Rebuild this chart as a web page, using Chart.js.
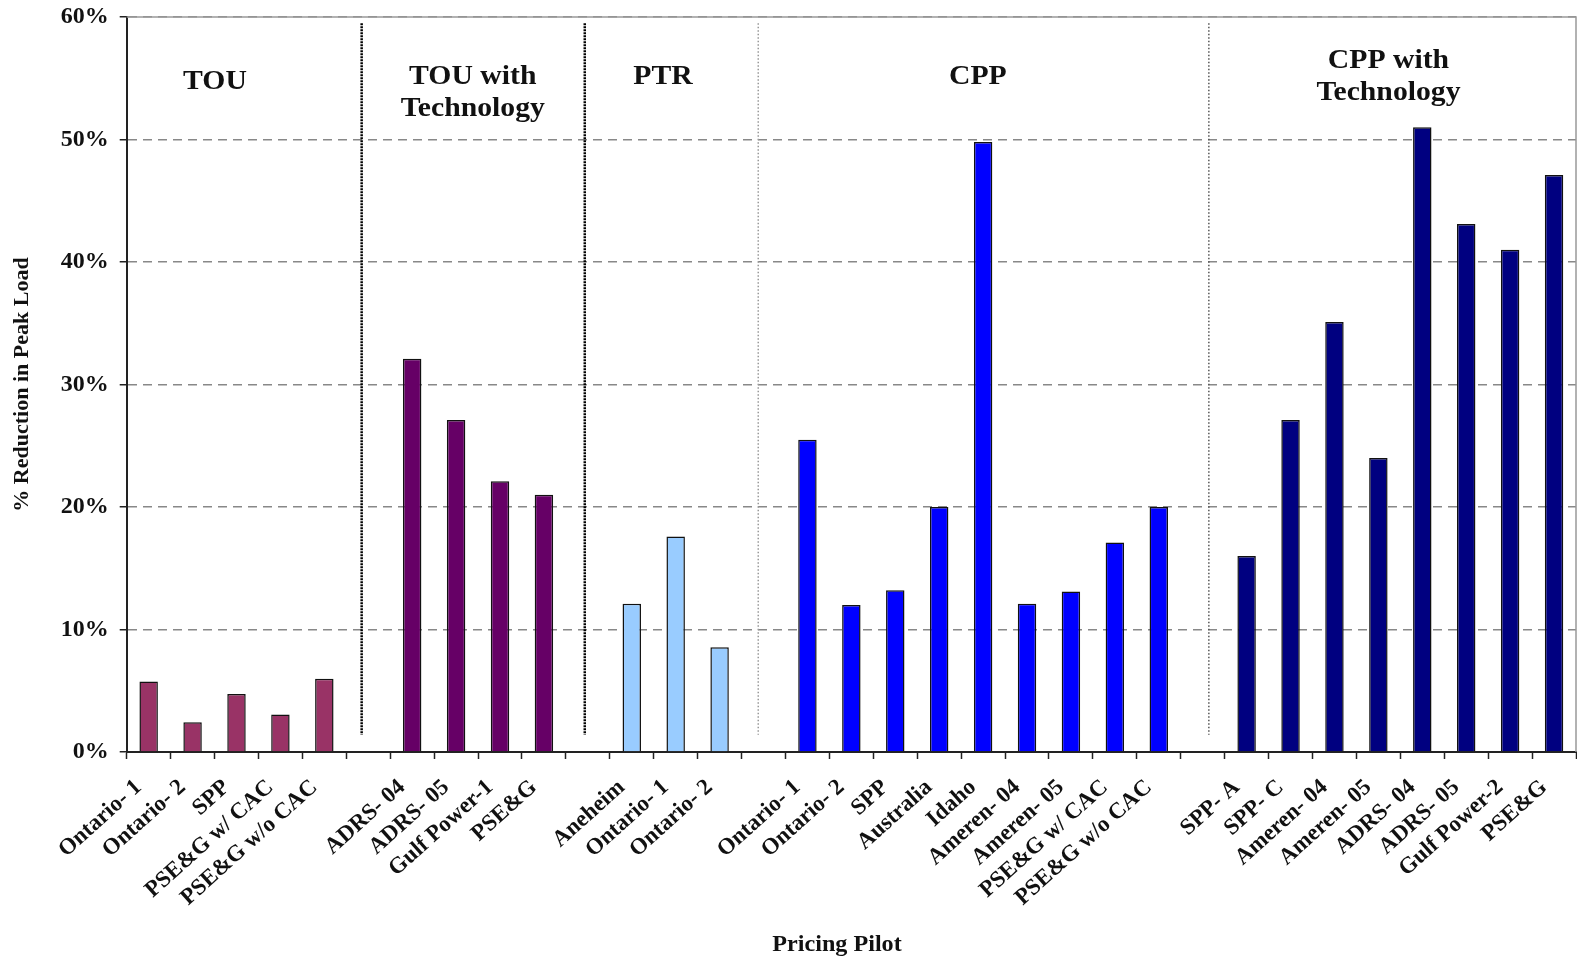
<!DOCTYPE html>
<html>
<head>
<meta charset="utf-8">
<script src="https://cdn.jsdelivr.net/npm/chart.js@4.4.1/dist/chart.umd.min.js"></script>
<style>
  html, body { margin: 0; padding: 0; background: #fff; }
  #wrap { width: 1577px; height: 957px; }
</style>
</head>
<body>
<div id="wrap"><canvas id="graficoPilotos"></canvas></div>
<script>
// Dados (% de redução no pico de carga)
const touLabels = ['Ontario- 1', 'Ontario- 2', 'SPP', 'PSE&G w/ CAC', 'PSE&G w/o CAC'];
const touValues = [5.76, 2.43, 4.74, 3.06, 5.97];

const touTechLabels = ['ADRS- 04', 'ADRS- 05', 'Gulf Power-1', 'PSE&G'];
const touTechValues = [32.1, 27.1, 22.1, 21.0];

const ptrLabels = ['Aneheim', 'Ontario- 1', 'Ontario- 2'];
const ptrValues = [12.1, 17.6, 8.55];

const cppLabels = ['Ontario- 1', 'Ontario- 2', 'SPP', 'Australia', 'Idaho', 'Ameren- 04', 'Ameren- 05', 'PSE&G w/ CAC', 'PSE&G w/o CAC'];
const cppValues = [25.5, 12.0, 13.2, 20.0, 49.8, 12.1, 13.1, 17.1, 20.0];

const cppTechLabels = ['SPP- A', 'SPP- C', 'Ameren- 04', 'Ameren- 05', 'ADRS- 04', 'ADRS- 05', 'Gulf Power-2', 'PSE&G'];
const cppTechValues = [16.0, 27.1, 35.1, 24.0, 51.0, 43.1, 41.0, 47.1];

const groupNames = [['TOU'], ['TOU with', 'Technology'], ['PTR'], ['CPP'], ['CPP with', 'Technology']];
const groupColors = ['#993366', '#660066', '#99CCFF', '#0000FF', '#000080'];
const yTicks = [0, 10, 20, 30, 40, 50, 60];
const xTitle = 'Pricing Pilot';

const FONTE = "'Liberation Serif', 'Times New Roman', serif";

// Monta categorias com uma coluna vazia entre os grupos
const grupos = [
  [touLabels, touValues],
  [touTechLabels, touTechValues],
  [ptrLabels, ptrValues],
  [cppLabels, cppValues],
  [cppTechLabels, cppTechValues]
];
const labels = [];
const valores = [];
const cores = [];
grupos.forEach(([labs, vals], g) => {
  if (g > 0) { labels.push(''); valores.push(null); cores.push('transparent'); }
  labs.forEach((l, i) => { labels.push(l); valores.push(vals[i]); cores.push(groupColors[g]); });
});

// Posições (em unidades de categoria / valor) dos separadores e títulos dos grupos
const separadores = [
  { x: 4.85, cor: '#000', largura: 2.5, traco: [2, 1] },
  { x: 9.93, cor: '#000', largura: 2.5, traco: [2, 1] },
  { x: 13.88, cor: '#999', largura: 1.5, traco: [1.5, 2] },
  { x: 24.14, cor: '#555', largura: 1.5, traco: [1.5, 2] }
];
const titulosGrupos = [
  { x: 1.51, y: 54.1 },
  { x: 7.38, y: 54.5 },
  { x: 11.71, y: 54.5 },
  { x: 18.88, y: 54.5 },
  { x: 28.23, y: 55.8 }
];

const decoracao = {
  id: 'decoracao',
  beforeDatasetsDraw(chart) {
    const { ctx, chartArea, scales: { x, y } } = chart;
    ctx.save();
    separadores.forEach(s => {
      const px = x.getPixelForValue(s.x);
      ctx.strokeStyle = s.cor;
      ctx.lineWidth = s.largura;
      ctx.setLineDash(s.traco);
      ctx.beginPath();
      ctx.moveTo(px, y.getPixelForValue(59.5));
      ctx.lineTo(px, y.getPixelForValue(1.4));
      ctx.stroke();
    });
    ctx.setLineDash([]);
    ctx.strokeStyle = '#999';
    ctx.lineWidth = 1.5;
    ctx.beginPath();
    ctx.moveTo(chartArea.left, chartArea.top);
    ctx.lineTo(chartArea.right, chartArea.top);
    ctx.lineTo(chartArea.right, chartArea.bottom);
    ctx.stroke();

    // Títulos dos grupos (fonte levemente alargada como no original)
    ctx.fillStyle = '#111';
    ctx.font = 'bold 27px ' + FONTE;
    ctx.textAlign = 'center';
    ctx.textBaseline = 'alphabetic';
    groupNames.forEach((linhas, i) => {
      const p = titulosGrupos[i];
      const px = x.getPixelForValue(p.x);
      const py = y.getPixelForValue(p.y);
      linhas.forEach((t, k) => {
        ctx.save();
        ctx.translate(px, py + k * 31.7);
        ctx.scale(1.1, 1);
        ctx.fillText(t, 0, 0);
        ctx.restore();
      });
    });
    ctx.restore();
  },
  afterDraw(chart) {
    const { ctx } = chart;
    ctx.save();
    ctx.fillStyle = '#111';
    ctx.font = 'bold 23px ' + FONTE;
    ctx.textAlign = 'center';
    ctx.textBaseline = 'middle';
    ctx.translate(837, 945);
    ctx.scale(1.05, 1);
    ctx.fillText(xTitle, 0, 0);
    ctx.restore();
  }
};

new Chart(document.getElementById('graficoPilotos'), {
  type: 'bar',
  data: {
    labels,
    datasets: [{
      data: valores,
      backgroundColor: cores,
      borderColor: '#111',
      borderWidth: 1.5,
      barPercentage: 0.42,
      categoryPercentage: 1.0
    }]
  },
  options: {
    responsive: true,
    maintainAspectRatio: false,
    animation: false,
    layout: { padding: { top: 17, right: 1, left: 0, bottom: 0 } },
    plugins: {
      legend: { display: false },
      tooltip: { enabled: false }
    },
    scales: {
      x: {
        afterFit(scale) { scale.height = 205; scale.paddingLeft = 0; scale.paddingRight = 0; },
        grid: {
          offset: true,
          drawOnChartArea: false,
          drawTicks: true,
          tickLength: 7,
          tickColor: '#222',
          tickWidth: 1.5
        },
        border: { color: '#222', width: 2 },
        ticks: {
          autoSkip: false,
          maxRotation: 42,
          minRotation: 42,
          labelOffset: -10,
          color: '#111',
          padding: 15,
          font: { family: FONTE, size: 23, weight: 'bold' }
        }
      },
      y: {
        min: 0,
        max: 60,
        afterFit(scale) { scale.width = 126.7; scale.paddingTop = 0; scale.paddingBottom = 0; },
        afterBuildTicks(scale) { scale.ticks = yTicks.map(v => ({ value: v })); },
        grid: {
          color: '#888',
          lineWidth: 1.5,
          tickColor: '#222',
          tickLength: 7,
          tickWidth: 1.5,
          tickBorderDash: []
        },
        border: { color: '#222', width: 2, dash: [9, 6] },
        ticks: {
          color: '#111',
          padding: 11,
          callback: v => v + '%',
          font: { family: FONTE, size: 24, weight: 'bold' }
        },
        title: {
          display: true,
          text: '% Reduction in Peak Load',
          color: '#111',
          padding: { top: 9, bottom: 0 },
          font: { family: FONTE, size: 22, weight: 'bold' }
        }
      }
    }
  },
  plugins: [decoracao]
});
</script>
</body>
</html>
